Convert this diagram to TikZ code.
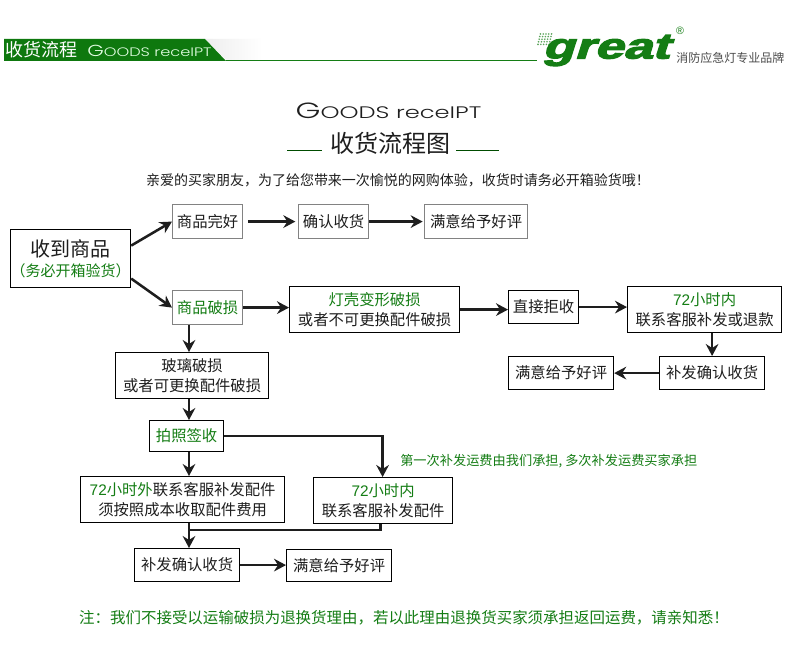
\documentclass[tikz,border=0pt]{standalone}
\usepackage{fontspec}
\usepackage{graphicx}
\setmainfont{Noto Sans CJK SC}
\newfontfamily\latinfont{Liberation Sans}
\newfontfamily\logofont[FakeBold=3,FakeSlant=0.22]{Liberation Sans Bold}
\newfontfamily\widefont{Poppins Light}
\usetikzlibrary{arrows.meta,calc}
\definecolor{gr}{RGB}{20,125,20}
\definecolor{dk}{RGB}{30,30,30}
\definecolor{barg}{RGB}{14,120,14}
\definecolor{bordergray}{RGB}{130,130,130}
\newcommand{\fs}[1]{\fontsize{#1}{#1}\selectfont}
\tikzset{
 x=0.75pt,y=-0.75pt,
 box/.style={draw=black,line width=0.9pt,fill=white,inner sep=0pt,align=center,text=dk,anchor=north west,font=\fs{11.5}},
 gbox/.style={box,draw=bordergray},
 arr/.style={draw=dk,line width=1.9pt,-{Stealth[length=9pt,width=9.5pt,inset=3pt]}},
 plain/.style={draw=dk,line width=1.9pt},
 txt/.style={inner sep=0pt,text=dk},
}
\newcommand{\bx}[7][box]{\node[#1,minimum width=#6*0.75pt,minimum height=#7*0.75pt] (#2) at (#4,#5) {#3};}
\begin{document}
\begin{tikzpicture}
\useasboundingbox (0,0) rectangle (790,655);
\fill[white] (0,0) rectangle (790,655);
% header
\shade[left color=black!7,right color=white] (205,39) -- (262,39) -- (262,60) -- (226,60) -- cycle;
\fill[barg] (4,39) -- (205,39) -- (226,61) -- (4,61) -- cycle;
\coordinate (ls) at (226,60.5);
\coordinate (le) at (537,60.5);
\draw[gr,line width=0.8pt] (ls) -- (le);
\node[inner sep=0pt,anchor=west,text=white,font=\fs{13.5}] (h1) at (5,50) {收货流程};
\node[inner sep=0pt,anchor=west,text=white!90!green,font=\widefont] (h2) at (87,51) {\scalebox{1.32}[1]{\fs{12}G\fs{9.2}OODS receIPT}};
% logo
\foreach \i in {0,...,4}{\foreach \j in {0,...,4}{
 \fill[gr!70!white] ({538+\i*2.8+(4-\j)*0.6},{34+\j*2.6}) circle (0.9);}}
\node[inner sep=0pt,anchor=base west,text=gr] (logo) at (542,58.5)
 {\scalebox{1.44}[1]{\logofont\fontsize{27}{27}\selectfont great}};
\node[inner sep=0pt,text=gr,font=\latinfont\fs{8}] (reg) at (680,31) {®};
\node[inner sep=0pt,anchor=west,text=black!70,font=\fs{9}] (brand) at (676,58) {消防应急灯专业品牌};
% titles
\node[txt,font=\widefont] (t1) at (388.5,111) {\scalebox{1.45}[1]{\fs{16.5}G\fs{12.5}OODS receIPT}};
\node[txt,font=\fs{18}] (t2) at (390,143) {收货流程图};
\coordinate (a1) at (287,150);\coordinate (a2) at (322,150);
\coordinate (b1) at (456,150);\coordinate (b2) at (499,150);
\draw[black!70!green,line width=0.7pt] (a1) -- (a2) (b1) -- (b2);
\node[txt,font=\fs{10.5}] (intro) at (398,180) {亲爱的买家朋友，为了给您带来一次愉悦的网购体验，收货时请务必开箱验货哦！};
% boxes
\bx{n0}{\fs{15}收到商品\\[3.5pt]{\fs{11.25}\color{gr}（务必开箱验货）}}{10}{229}{120}{58}
\bx[gbox]{n1}{商品完好}{172}{204}{70}{34}
\bx[gbox]{n2}{确认收货}{298}{204}{70}{34}
\bx[gbox]{n3}{满意给予好评}{424}{204}{103}{34}
\bx[gbox]{n4}{\color{gr}商品破损}{172}{290}{70}{34}
\bx{n5}{{\color{gr}灯壳变形破损}\\[3pt]或者不可更换配件破损}{289}{286}{170}{46}
\bx{n6}{直接拒收}{508}{290}{70}{33}
\bx{n7}{{\color{gr}{\latinfont 72}小时内}\\[3pt]联系客服补发或退款}{627}{286}{154}{46}
\bx{n8}{补发确认收货}{659}{356}{105}{33}
\bx{n9}{满意给予好评}{508}{356}{105}{33}
\bx{n10}{玻璃破损\\[3pt]或者可更换配件破损}{115}{352}{153}{46}
\bx{n11}{\color{gr}拍照签收}{149}{420}{74}{31}
\bx{n12}{{\color{gr}{\latinfont 72}小时外}联系客服补发配件\\[3pt]须按照成本收取配件费用}{80}{476}{204}{46}
\bx{n13}{{\color{gr}{\latinfont 72}小时内}\\[3pt]联系客服补发配件}{313}{477}{139}{46}
\bx{n14}{补发确认收货}{134}{548}{105}{33}
\bx{n15}{满意给予好评}{286}{549}{105}{32}
% connectors
\coordinate (vx) at (189,0);
\draw[arr] ([yshift=9.75pt]n0.east) -- (n1.west);
\draw[arr] ([yshift=-15pt]n0.east) -- (n4.west);
\draw[arr,shorten <=3.5pt,shorten >=2pt] (n1.east) -- (n2.west);
\draw[arr,shorten >=1pt] (n2.east) -- (n3.west);
\draw[arr] (n4.east) -- (n4.east -| n5.west);
\draw[arr] (n5.east) -- (n5.east -| n6.west);
\draw[arr] (n6.east) -- (n6.east -| n7.west);
\draw[arr] (n7.south -| n8.north) -- (n8.north);
\draw[arr] (n8.west) -- (n9.east);
\draw[arr] (vx |- n4.south) -- (vx |- n10.north);
\draw[arr] (vx |- n10.south) -- (vx |- n11.north);
\draw[arr] (vx |- n11.south) -- (vx |- n12.north);
\coordinate (c2) at ($(n13.north)+(-0.5,0)$);
\draw[arr] (n11.east) -| (c2);
\coordinate (m) at (189,530);
\draw[plain] ($(n13.south)+(-2.5,0)$) |- (m);
\draw[arr] (vx |- n12.south) -- (vx |- n14.north);
\draw[arr] (n14.east) -- (n15.west |- n14.east);
% notes
\node[inner sep=0pt,anchor=west,text=gr,font=\fs{9.9}] (note1) at (400,461) {第一次补发运费由我们承担, 多次补发运费买家承担};
\node[inner sep=0pt,text=gr,font=\fs{11.6}] (note2) at (404,618) {注：我们不接受以运输破损为退换货理由，若以此理由退换货买家须承担返回运费，请亲知悉！};
\end{tikzpicture}
\end{document}
